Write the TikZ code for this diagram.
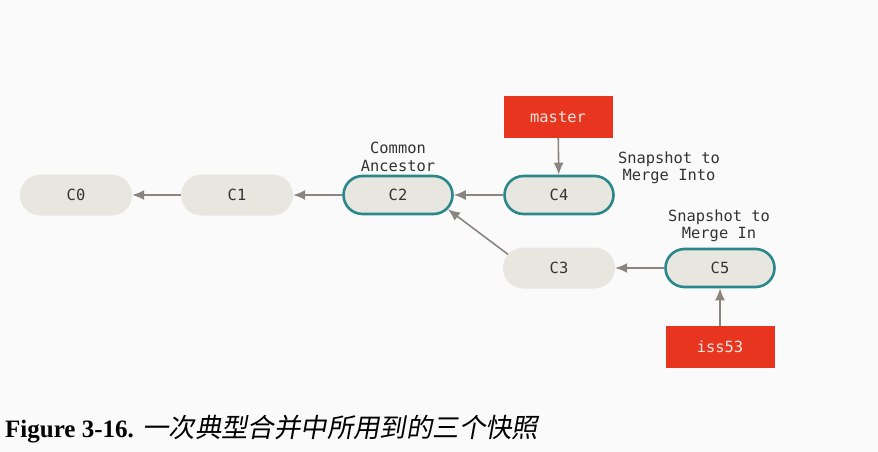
\documentclass[tikz,border=0pt]{standalone}
\usepackage{fontspec}
\setmainfont{Liberation Serif}
\setmonofont{DejaVu Sans Mono}
\newfontfamily\cjkfont[FakeSlant=0.18]{Noto Sans CJK SC}
\usetikzlibrary{shapes.misc, arrows.meta, positioning}

\definecolor{bgcol}{HTML}{FAFAFA}
\definecolor{commitfill}{HTML}{E8E7DF}
\definecolor{tealcol}{HTML}{2A878C}
\definecolor{branchred}{HTML}{E8351F}
\definecolor{branchtext}{HTML}{F3E6E1}
\definecolor{arrowgray}{HTML}{8A8580}
\definecolor{textgray}{HTML}{333333}

\tikzset{
    commit/.style={rounded rectangle, fill=commitfill, minimum width=112pt, minimum height=41pt,
        inner sep=0pt, text=textgray, font=\ttfamily\fontsize{15.4}{18}\selectfont},
    snapshot/.style={commit, draw=tealcol, line width=2.6pt, minimum width=109pt, minimum height=38pt},
    branch/.style={rectangle, fill=branchred, minimum width=109pt, minimum height=42pt,
        inner sep=0pt, text=branchtext, font=\ttfamily\fontsize{15.4}{18}\selectfont},
    note/.style={align=center, inner sep=0pt, text=textgray, font=\ttfamily\fontsize{15.4}{17.5}\selectfont},
    parent/.style={draw=arrowgray, line width=1.6pt, -{Latex[length=12pt, width=10pt]}}
}

\begin{document}
\begin{tikzpicture}[x=1pt, y=-1pt]
        \fill[bgcol] (0, 0) rectangle (878, 452);
        \useasboundingbox (0, 0) rectangle (878, 452);

        % Commits
        \node[commit] (C0) at (76, 195) {C0};
        \node[commit] (C1) at (237, 195) {C1};
        \node[snapshot] (C2) at (398, 195) {C2};
        \node[snapshot] (C4) at (559, 195) {C4};
        \node[commit] (C3) at (559, 268) {C3};
        \node[snapshot] (C5) at (720, 268) {C5};

        % Branches
        \node[branch] (master) at (558, 117) {master};
        \node[branch] (iss53) at (720, 347) {iss53};

        % Notes
        \node[note] (ancestor) at (398, 157) {Common\\Ancestor};
        \node[note] (into) at (669, 168) {Snapshot to\\Merge Into};
        \node[note] (in) at (719, 226) {Snapshot to\\Merge In};

        % Parent links
        \draw[parent] (C1) -- (C0);
        \draw[parent] (C2) -- (C1);
        \draw[parent] (C4) -- (C2);
        \draw[parent] (C3.165) -- (C2.-16);
        \draw[parent] (C5) -- (C3);
        \draw[parent] (master) -- (C4);
        \draw[parent] (iss53) -- (C5);

        % Caption
        \node[anchor=base west, inner sep=0pt, font=\fontsize{25}{30}\selectfont] (caption) at (5, 437)
            {\textbf{Figure 3-16.} {\cjkfont\fontsize{26.4}{30}\selectfont 一次典型合并中所用到的三个快照}};
    \end{tikzpicture}
\end{document}
